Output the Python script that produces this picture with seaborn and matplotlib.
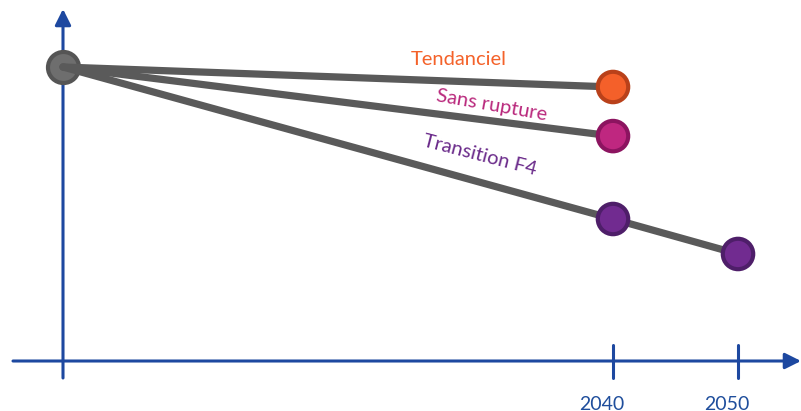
import matplotlib
matplotlib.use("Agg")
import matplotlib.pyplot as plt
import seaborn as sns
import pandas as pd

# ---- data (index, start = 100) ----
start_year = 1996
start_value = 100.0
scenarios = ["Tendanciel", "Sans rupture", "Transition F4"]
years_2040 = [2040, 2040, 2040]
values_2040 = [93.2, 76.5, 48.3]
transition_2050_value = 36.4
tick_years = [2040, 2050]
tick_labels = ["2040", "2050"]

fill_colors = {"Tendanciel": "#f4602a", "Sans rupture": "#bf2780", "Transition F4": "#712b90"}
edge_colors = {"Tendanciel": "#b9411a", "Sans rupture": "#8c1460", "Transition F4": "#4e1e69"}
text_colors = {"Tendanciel": "#f4622a", "Sans rupture": "#b9287c", "Transition F4": "#6a2a8a"}

rows = []
for s, y40, v40 in zip(scenarios, years_2040, values_2040):
    rows.append({"scenario": s, "year": start_year, "value": start_value})
    rows.append({"scenario": s, "year": y40, "value": v40})
rows.append({"scenario": "Transition F4", "year": 2050, "value": transition_2050_value})
df = pd.DataFrame(rows)

end_rows = [{"scenario": s, "year": y, "value": v} for s, y, v in zip(scenarios, years_2040, values_2040)]
end_rows.append({"scenario": "Transition F4", "year": 2050, "value": transition_2050_value})
ends = pd.DataFrame(end_rows)

sns.set_theme(style="white")
plt.rcParams["font.family"] = ["Lato", "DejaVu Sans"]

fig = plt.figure(figsize=(8.01, 4.11), dpi=100)
ax = fig.add_axes([0, 0, 1, 1])
px_per_year = 12.5
px_per_unit = 2.94
ax.set_xlim(start_year - 63 / px_per_year, start_year + (801 - 63) / px_per_year)
ax.set_ylim(-(411 - 361) / px_per_unit, 361 / px_per_unit)

axis_color = "#1d48a0"
x0 = start_year
# axes with arrows
ax.annotate("", xy=(x0 + (801 - 63) / px_per_year, 0), xytext=(x0 - 50 / px_per_year, 0),
            arrowprops=dict(arrowstyle="-|>,head_length=0.8,head_width=0.4", color=axis_color, lw=2.2,
                            shrinkA=0, shrinkB=0), zorder=1)
ax.annotate("", xy=(x0, (361 - 9) / px_per_unit), xytext=(x0, -17 / px_per_unit),
            arrowprops=dict(arrowstyle="-|>,head_length=0.8,head_width=0.4", color=axis_color, lw=2.2,
                            shrinkA=0, shrinkB=0), zorder=1)
for ty, tl in zip(tick_years, tick_labels):
    ax.plot([ty, ty], [16 / px_per_unit, -17 / px_per_unit], color=axis_color, lw=2.2, zorder=1)
    ax.text(ty - 0.9, -43 / px_per_unit, tl, color="#1f4e9c", fontsize=14, ha="center", va="center")

# start marker
ax.scatter([start_year], [start_value], s=500, color="#6e6e6e", edgecolor="#555555", linewidth=3, zorder=2)

# lines
sns.lineplot(data=df, x="year", y="value", units="scenario", estimator=None, color="#5a5a5a",
             linewidth=5.2, ax=ax, zorder=3, legend=False, sort=False)

# end markers
sns.scatterplot(data=ends, x="year", y="value", hue="scenario", palette=fill_colors, s=480,
                linewidth=0, ax=ax, zorder=4, legend=False)
ax.collections[-1].set_edgecolors([edge_colors[s] for s in ends["scenario"]])
ax.collections[-1].set_linewidths(3)
ax.set_xlabel("")
ax.set_ylabel("")
ax.axis("off")

# labels
def to_data(px, py):
    return start_year + (px - 63) / px_per_year, (361 - py) / px_per_unit

tx, ty_ = to_data(459, 59)
ax.text(tx, ty_, "Tendanciel", color=text_colors["Tendanciel"], fontsize=14.5, ha="center", va="center")
tx, ty_ = to_data(492, 105)
ax.text(tx, ty_, "Sans rupture", color=text_colors["Sans rupture"], fontsize=14.5, ha="center", va="center",
        rotation=-10)
tx, ty_ = to_data(480, 155)
ax.text(tx, ty_, "Transition F4", color=text_colors["Transition F4"], fontsize=14.5, ha="center", va="center",
        rotation=-14.5)

fig.savefig("out.png", dpi=100, facecolor="white")
